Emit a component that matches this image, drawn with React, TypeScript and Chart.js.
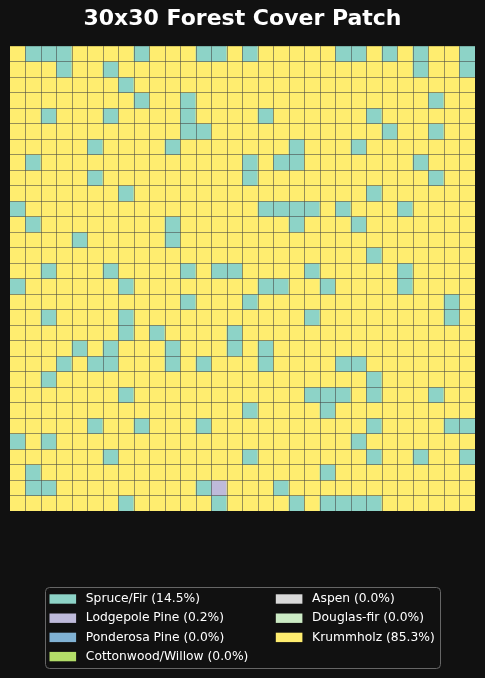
import React, { useEffect, useRef } from "react";
import { Chart, registerables } from "chart.js";

Chart.register(...registerables);

const TITLE = "30x30 Forest Cover Patch";
const GRID_SIZE = 30;

const CLASS_NAMES = [
  "Spruce/Fir",
  "Lodgepole Pine",
  "Ponderosa Pine",
  "Cottonwood/Willow",
  "Aspen",
  "Douglas-fir",
  "Krummholz",
];
const CLASS_COLORS = ["#8dd3c7", "#bebada", "#80b1d3", "#b3de69", "#d9d9d9", "#ccebc5", "#ffed6f"];
const CLASS_SHARES = ["14.5", "0.2", "0.0", "0.0", "0.0", "0.0", "85.3"];
const DEFAULT_CLASS = 6; // Krummholz fills every cell not listed below

// Spruce/Fir cells: column indices for each row (row 0 = top)
const SPRUCE_BY_ROW: number[][] = [
  [1, 2, 3, 8, 12, 13, 15, 21, 22, 24, 26, 29],
  [3, 6, 26, 29],
  [7],
  [8, 11, 27],
  [2, 6, 11, 16, 23],
  [11, 12, 24, 27],
  [5, 10, 18, 22],
  [1, 15, 17, 18, 26],
  [5, 15, 27],
  [7, 23],
  [0, 16, 17, 18, 19, 21, 25],
  [1, 10, 18, 22],
  [4, 10],
  [23],
  [2, 6, 11, 13, 14, 19, 25],
  [0, 7, 16, 17, 20, 25],
  [11, 15, 28],
  [2, 7, 19, 28],
  [7, 9, 14],
  [4, 6, 10, 14, 16],
  [3, 5, 6, 10, 12, 16, 21, 22],
  [2, 23],
  [7, 19, 20, 21, 23, 27],
  [15, 20],
  [5, 8, 12, 23, 28, 29],
  [0, 2, 22],
  [6, 15, 23, 26, 29],
  [1, 20],
  [1, 2, 12, 17],
  [7, 13, 18, 20, 21, 22, 23],
];
// Lodgepole Pine cells: [row, col]
const LODGEPOLE_CELLS: number[][] = [[28, 13]];

const COLUMN_LABELS = Array.from({ length: GRID_SIZE }, (_, i) => String(i));

function buildGrid(): number[][] {
  const grid: number[][] = [];
  for (let r = 0; r < GRID_SIZE; r++) {
    const row: number[] = [];
    for (let c = 0; c < GRID_SIZE; c++) row.push(DEFAULT_CLASS);
    for (const c of SPRUCE_BY_ROW[r]) row[c] = 0;
    grid.push(row);
  }
  for (const [r, c] of LODGEPOLE_CELLS) grid[r][c] = 1;
  return grid;
}

const BG = "#111111";
const LINE_COLOR = "rgba(70,70,70,0.55)";

const backgroundPlugin = {
  id: "bgFill",
  beforeDraw(chart: any) {
    const ctx = chart.ctx;
    ctx.save();
    ctx.fillStyle = BG;
    ctx.fillRect(0, 0, chart.width, chart.height);
    ctx.restore();
  },
};

const legendPlugin = {
  id: "classLegend",
  afterDraw(chart: any) {
    const ctx = chart.ctx;
    ctx.save();
    const bx = 45.5, by = 587.5, bw = 395, bh = 81, rad = 4;
    ctx.beginPath();
    ctx.moveTo(bx + rad, by);
    ctx.lineTo(bx + bw - rad, by);
    ctx.quadraticCurveTo(bx + bw, by, bx + bw, by + rad);
    ctx.lineTo(bx + bw, by + bh - rad);
    ctx.quadraticCurveTo(bx + bw, by + bh, bx + bw - rad, by + bh);
    ctx.lineTo(bx + rad, by + bh);
    ctx.quadraticCurveTo(bx, by + bh, bx, by + bh - rad);
    ctx.lineTo(bx, by + rad);
    ctx.quadraticCurveTo(bx, by, bx + rad, by);
    ctx.closePath();
    ctx.fillStyle = BG;
    ctx.fill();
    ctx.strokeStyle = "#666666";
    ctx.lineWidth = 1;
    ctx.stroke();

    ctx.font = "12.3px 'DejaVu Sans'";
    ctx.textBaseline = "middle";
    ctx.textAlign = "left";
    const rowsY = [599, 618.2, 637.4, 656.6];
    const colX = [49.5, 275.8];
    CLASS_NAMES.forEach((name, i) => {
      const col = i < 4 ? 0 : 1;
      const row = i < 4 ? i : i - 4;
      const x = colX[col];
      const y = rowsY[row];
      ctx.fillStyle = CLASS_COLORS[i];
      ctx.fillRect(x, y - 4.7, 26.6, 9.4);
      ctx.fillStyle = "#ffffff";
      ctx.fillText(`${name} (${CLASS_SHARES[i]}%)`, x + 36.3, y);
    });
    ctx.restore();
  },
};

function innerLineColor(c: any) {
  const i = c.index;
  if (i === undefined || i === 0 || i >= GRID_SIZE) return "rgba(0,0,0,0)";
  return LINE_COLOR;
}

export default function App() {
  const ref = useRef<HTMLCanvasElement | null>(null);

  useEffect(() => {
    if (!ref.current) return;
    const grid = buildGrid();
    const datasets = grid.map((row, r) => ({
      label: `row ${r}`,
      data: row.map(() => 1),
      backgroundColor: row.map((k) => CLASS_COLORS[k]),
      borderWidth: 0,
      categoryPercentage: 1,
      barPercentage: 1,
      stack: "grid",
    }));

    const gridOpts = {
      display: true,
      color: innerLineColor,
      lineWidth: 1,
      drawTicks: false,
      z: 1,
    };

    const chart = new Chart(ref.current, {
      type: "bar",
      data: { labels: COLUMN_LABELS, datasets },
      options: {
        animation: false,
        responsive: false,
        devicePixelRatio: 1,
        layout: { padding: { left: 10, right: 10, top: 0, bottom: 167 } },
        plugins: {
          legend: { display: false },
          tooltip: { enabled: false },
          title: {
            display: true,
            text: TITLE,
            color: "#ffffff",
            font: { family: "'DejaVu Sans'", size: 22, weight: "bold", lineHeight: 1.2 },
            padding: { top: 6.5, bottom: 13.1 },
          },
        },
        scales: {
          x: {
            type: "category",
            stacked: true,
            offset: true,
            grid: { ...gridOpts, offset: true },
            ticks: { display: false },
            border: { display: false },
          },
          y: {
            type: "linear",
            stacked: true,
            reverse: true,
            min: 0,
            max: GRID_SIZE,
            grid: gridOpts,
            ticks: { display: false, stepSize: 1 },
            border: { display: false },
          },
        },
      } as any,
      plugins: [backgroundPlugin, legendPlugin],
    });
    return () => chart.destroy();
  }, []);

  return (
    <div style={{ position: "fixed", left: 0, top: 0, width: 485, height: 678, background: BG }}>
      <canvas ref={ref} width={485} height={678} style={{ display: "block" }} />
    </div>
  );
}
